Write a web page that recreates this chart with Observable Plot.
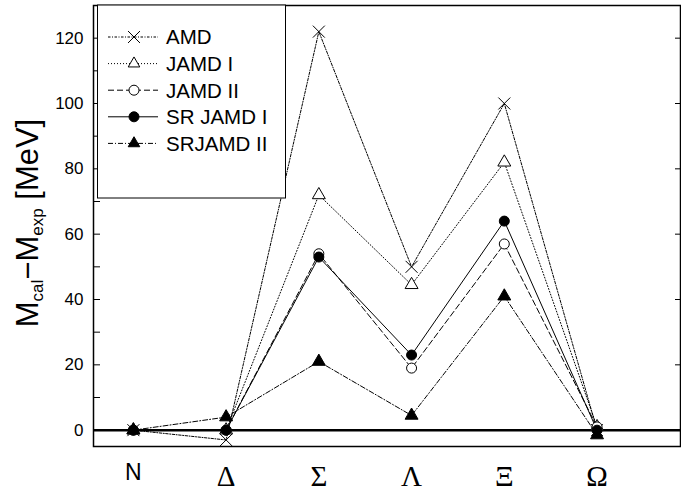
<!DOCTYPE html>
<html><head><meta charset="utf-8">
<script src="https://cdn.jsdelivr.net/npm/d3@7"></script>
<script src="https://cdn.jsdelivr.net/npm/@observablehq/plot@0.6"></script>
<style>
body{margin:0;background:#fff;}
#chart{position:relative;width:681px;height:497px;}
svg{font-family:"Liberation Sans",Arial,sans-serif;}
</style>
</head><body><div id="chart"></div>
<script>
const categories = ["N","Δ","Σ","Λ","Ξ","Ω"];
const catPos = [1,2,3,4,5,6];
const seriesNames = ["AMD","JAMD I","JAMD II","SR JAMD I","SRJAMD II"];
const amd     = [0, -3, 122, 50, 100, 0];
const jamd1   = [0, 0, 72, 44.5, 82, 1];
const jamd2   = [0, 0, 54, 19, 57, 1];
const srjamd1 = [0, 0, 53, 23, 64, 0];
const srjamd2 = [0, 4, 21, 4.5, 41, -1.5];
const yMajor = [0,20,40,60,80,100,120];
const yMinor = [10,30,50,70,90,110];

const values = [amd, jamd1, jamd2, srjamd1, srjamd2];
const styles = [
  {dash:"2.5,1.5,1,1.5", symbol:"times", fill:"none", r:5.5},
  {dash:"1,2", symbol:"triangle", fill:"white", r:4.8},
  {dash:"6,3", symbol:"circle", fill:"white", r:5},
  {dash:null, symbol:"circle", fill:"black", r:5},
  {dash:"5,2,1,2", symbol:"triangle", fill:"black", r:4.8}
];
const rows = [];
values.forEach((vals, s) => vals.forEach((v, i) => rows.push({series: seriesNames[s], s, x: catPos[i], cat: categories[i], y: v})));

const marks = [
  Plot.ruleY([0], {stroke:"black", strokeWidth:2.5}),
  Plot.axisY({ticks: yMajor, tickSize: 0, tickPadding: 10, fontSize: 17, label: null}),
  Plot.axisY({ticks: yMajor.concat(yMinor), tickSize: -7, tickFormat: () => "", label: null}),
  Plot.axisY({anchor:"right", ticks: yMajor, tickSize: -6, tickFormat: () => "", label: null}),
  Plot.axisX({ticks: [catPos[0]], tickFormat: i => categories[i-1], tickSize: 0, tickPadding: 17, fontSize: 23, label: null}),
  Plot.axisX({ticks: catPos.slice(1), tickFormat: i => categories[i-1], tickSize: 0, tickPadding: 19, fontSize: 29, fontFamily: "Liberation Serif, serif", label: null}),
];
styles.forEach((st, s) => {
  const data = rows.filter(d => d.s === s);
  marks.push(Plot.line(data, {x:"x", y:"y", stroke:"black", strokeWidth:1, strokeDasharray: st.dash ?? undefined}));
});
styles.forEach((st, s) => {
  const data = rows.filter(d => d.s === s);
  marks.push(Plot.dot(data, {x:"x", y:"y", symbol: () => st.symbol, stroke:"black", fill: st.fill, r: st.r, strokeWidth: 1}));
});
marks.push(Plot.frame({stroke:"black", strokeWidth:1.5}));

const plot = Plot.plot({
  width: 681, height: 497,
  marginLeft: 93, marginRight: 1, marginTop: 5, marginBottom: 51,
  x: {domain: [0.57, 6.9], axis: null},
  y: {domain: [-5, 130], axis: null},
  symbol: {type: "identity"},
  marks
});
document.getElementById("chart").appendChild(plot);

// Y-axis title with subscripts
const svg = d3.select(plot);
const t = svg.append("text")
  .attr("transform", "translate(38,223) rotate(-90)")
  .attr("text-anchor", "middle")
  .attr("font-size", 31)
  .attr("fill", "black");
t.append("tspan").text("M");
t.append("tspan").attr("font-size", 17).attr("dy", 5).text("cal");
t.append("tspan").attr("dy", -5).text("−M");
t.append("tspan").attr("font-size", 17).attr("dy", 5).text("exp");
t.append("tspan").attr("dy", -5).text(" [MeV]");

// Legend box
const lg = svg.append("g");
lg.append("rect").attr("x", 97.5).attr("y", 5).attr("width", 188).attr("height", 193)
  .attr("fill", "white").attr("stroke", "black").attr("stroke-width", 1);
const symMap = {times: d3.symbolTimes, triangle: d3.symbolTriangle2, circle: d3.symbolCircle};
seriesNames.forEach((name, s) => {
  const st = styles[s];
  const y = 37 + s * 26.6;
  lg.append("line").attr("x1", 108).attr("x2", 158).attr("y1", y).attr("y2", y)
    .attr("stroke", "black").attr("stroke-width", 1).attr("stroke-dasharray", st.dash);
  const rr = st.symbol === "triangle" ? st.r * 1.15 : st.r;
  const size = Math.PI * rr * rr;
  lg.append("path").attr("d", d3.symbol(symMap[st.symbol], size)())
    .attr("transform", `translate(134,${y})`)
    .attr("fill", st.fill === "none" ? "white" : st.fill).attr("stroke", "black").attr("stroke-width", 1);
  lg.append("text").attr("x", 166).attr("y", y).attr("dy", "0.36em")
    .attr("text-anchor", "start")
    .attr("font-size", 20.5).attr("fill", "black").text(name);
});
</script>
</body></html>
